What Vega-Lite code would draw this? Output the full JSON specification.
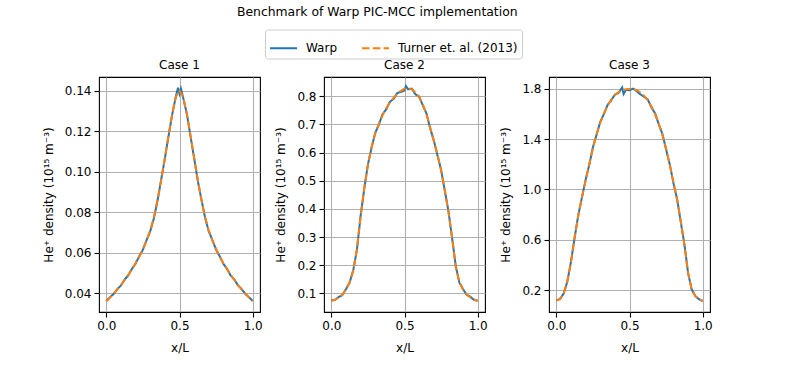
{
  "$schema": "https://vega.github.io/schema/vega-lite/v6.json",
  "padding": {"left": 41, "top": 5, "right": 5, "bottom": 5},
  "title": {"text": "Benchmark of Warp PIC-MCC implementation", "anchor": "middle", "fontSize": 12.4, "font": "DejaVu Sans", "fontWeight": "normal", "color": "black", "offset": 11},
  "data": {"values": [
    {"c":1,"s":"Warp","x":0,"y":0.0362},{"c":1,"s":"Warp","x":0.025,"y":0.0380},{"c":1,"s":"Warp","x":0.05,"y":0.0396},{"c":1,"s":"Warp","x":0.075,"y":0.0420},{"c":1,"s":"Warp","x":0.1,"y":0.0438},{"c":1,"s":"Warp","x":0.125,"y":0.0467},{"c":1,"s":"Warp","x":0.15,"y":0.0488},{"c":1,"s":"Warp","x":0.175,"y":0.0520},{"c":1,"s":"Warp","x":0.2,"y":0.0546},{"c":1,"s":"Warp","x":0.225,"y":0.0583},{"c":1,"s":"Warp","x":0.25,"y":0.0615},{"c":1,"s":"Warp","x":0.275,"y":0.0662},{"c":1,"s":"Warp","x":0.3,"y":0.0706},{"c":1,"s":"Warp","x":0.325,"y":0.0770},{"c":1,"s":"Warp","x":0.35,"y":0.0858},{"c":1,"s":"Warp","x":0.375,"y":0.0962},{"c":1,"s":"Warp","x":0.4,"y":0.1065},{"c":1,"s":"Warp","x":0.425,"y":0.1176},{"c":1,"s":"Warp","x":0.45,"y":0.1282},{"c":1,"s":"Warp","x":0.475,"y":0.1372},{"c":1,"s":"Warp","x":0.49,"y":0.1415},{"c":1,"s":"Warp","x":0.5,"y":0.1385},{"c":1,"s":"Warp","x":0.51,"y":0.1410},{"c":1,"s":"Warp","x":0.525,"y":0.1365},{"c":1,"s":"Warp","x":0.55,"y":0.1288},{"c":1,"s":"Warp","x":0.575,"y":0.1176},{"c":1,"s":"Warp","x":0.6,"y":0.1068},{"c":1,"s":"Warp","x":0.625,"y":0.0955},{"c":1,"s":"Warp","x":0.65,"y":0.0862},{"c":1,"s":"Warp","x":0.675,"y":0.0772},{"c":1,"s":"Warp","x":0.7,"y":0.0705},{"c":1,"s":"Warp","x":0.725,"y":0.0662},{"c":1,"s":"Warp","x":0.75,"y":0.0615},{"c":1,"s":"Warp","x":0.775,"y":0.0582},{"c":1,"s":"Warp","x":0.8,"y":0.0545},{"c":1,"s":"Warp","x":0.825,"y":0.0520},{"c":1,"s":"Warp","x":0.85,"y":0.0487},{"c":1,"s":"Warp","x":0.875,"y":0.0467},{"c":1,"s":"Warp","x":0.9,"y":0.0438},{"c":1,"s":"Warp","x":0.925,"y":0.0420},{"c":1,"s":"Warp","x":0.95,"y":0.0396},{"c":1,"s":"Warp","x":0.975,"y":0.0380},{"c":1,"s":"Warp","x":1,"y":0.0362},
    {"c":1,"s":"Turner et. al. (2013)","x":0,"y":0.0360},{"c":1,"s":"Turner et. al. (2013)","x":0.025,"y":0.0378},{"c":1,"s":"Turner et. al. (2013)","x":0.05,"y":0.0398},{"c":1,"s":"Turner et. al. (2013)","x":0.075,"y":0.0418},{"c":1,"s":"Turner et. al. (2013)","x":0.1,"y":0.0440},{"c":1,"s":"Turner et. al. (2013)","x":0.125,"y":0.0465},{"c":1,"s":"Turner et. al. (2013)","x":0.15,"y":0.0490},{"c":1,"s":"Turner et. al. (2013)","x":0.175,"y":0.0518},{"c":1,"s":"Turner et. al. (2013)","x":0.2,"y":0.0548},{"c":1,"s":"Turner et. al. (2013)","x":0.225,"y":0.0580},{"c":1,"s":"Turner et. al. (2013)","x":0.25,"y":0.0618},{"c":1,"s":"Turner et. al. (2013)","x":0.275,"y":0.0660},{"c":1,"s":"Turner et. al. (2013)","x":0.3,"y":0.0710},{"c":1,"s":"Turner et. al. (2013)","x":0.325,"y":0.0775},{"c":1,"s":"Turner et. al. (2013)","x":0.35,"y":0.0860},{"c":1,"s":"Turner et. al. (2013)","x":0.375,"y":0.0960},{"c":1,"s":"Turner et. al. (2013)","x":0.4,"y":0.1070},{"c":1,"s":"Turner et. al. (2013)","x":0.425,"y":0.1180},{"c":1,"s":"Turner et. al. (2013)","x":0.45,"y":0.1285},{"c":1,"s":"Turner et. al. (2013)","x":0.475,"y":0.1370},{"c":1,"s":"Turner et. al. (2013)","x":0.5,"y":0.1400},{"c":1,"s":"Turner et. al. (2013)","x":0.525,"y":0.1370},{"c":1,"s":"Turner et. al. (2013)","x":0.55,"y":0.1285},{"c":1,"s":"Turner et. al. (2013)","x":0.575,"y":0.1180},{"c":1,"s":"Turner et. al. (2013)","x":0.6,"y":0.1070},{"c":1,"s":"Turner et. al. (2013)","x":0.625,"y":0.0960},{"c":1,"s":"Turner et. al. (2013)","x":0.65,"y":0.0860},{"c":1,"s":"Turner et. al. (2013)","x":0.675,"y":0.0775},{"c":1,"s":"Turner et. al. (2013)","x":0.7,"y":0.0710},{"c":1,"s":"Turner et. al. (2013)","x":0.725,"y":0.0660},{"c":1,"s":"Turner et. al. (2013)","x":0.75,"y":0.0618},{"c":1,"s":"Turner et. al. (2013)","x":0.775,"y":0.0580},{"c":1,"s":"Turner et. al. (2013)","x":0.8,"y":0.0548},{"c":1,"s":"Turner et. al. (2013)","x":0.825,"y":0.0518},{"c":1,"s":"Turner et. al. (2013)","x":0.85,"y":0.0490},{"c":1,"s":"Turner et. al. (2013)","x":0.875,"y":0.0465},{"c":1,"s":"Turner et. al. (2013)","x":0.9,"y":0.0440},{"c":1,"s":"Turner et. al. (2013)","x":0.925,"y":0.0418},{"c":1,"s":"Turner et. al. (2013)","x":0.95,"y":0.0398},{"c":1,"s":"Turner et. al. (2013)","x":0.975,"y":0.0378},{"c":1,"s":"Turner et. al. (2013)","x":1,"y":0.0360},
    {"c":2,"s":"Warp","x":0,"y":0.075},{"c":2,"s":"Warp","x":0.025,"y":0.077},{"c":2,"s":"Warp","x":0.05,"y":0.087},{"c":2,"s":"Warp","x":0.075,"y":0.094},{"c":2,"s":"Warp","x":0.1,"y":0.115},{"c":2,"s":"Warp","x":0.125,"y":0.138},{"c":2,"s":"Warp","x":0.15,"y":0.183},{"c":2,"s":"Warp","x":0.175,"y":0.255},{"c":2,"s":"Warp","x":0.2,"y":0.375},{"c":2,"s":"Warp","x":0.225,"y":0.471},{"c":2,"s":"Warp","x":0.25,"y":0.558},{"c":2,"s":"Warp","x":0.275,"y":0.617},{"c":2,"s":"Warp","x":0.3,"y":0.670},{"c":2,"s":"Warp","x":0.325,"y":0.699},{"c":2,"s":"Warp","x":0.35,"y":0.736},{"c":2,"s":"Warp","x":0.375,"y":0.753},{"c":2,"s":"Warp","x":0.4,"y":0.780},{"c":2,"s":"Warp","x":0.425,"y":0.790},{"c":2,"s":"Warp","x":0.45,"y":0.811},{"c":2,"s":"Warp","x":0.475,"y":0.815},{"c":2,"s":"Warp","x":0.5,"y":0.820},{"c":2,"s":"Warp","x":0.51,"y":0.836},{"c":2,"s":"Warp","x":0.525,"y":0.824},{"c":2,"s":"Warp","x":0.55,"y":0.827},{"c":2,"s":"Warp","x":0.575,"y":0.806},{"c":2,"s":"Warp","x":0.6,"y":0.799},{"c":2,"s":"Warp","x":0.625,"y":0.767},{"c":2,"s":"Warp","x":0.65,"y":0.739},{"c":2,"s":"Warp","x":0.675,"y":0.686},{"c":2,"s":"Warp","x":0.7,"y":0.644},{"c":2,"s":"Warp","x":0.725,"y":0.590},{"c":2,"s":"Warp","x":0.75,"y":0.539},{"c":2,"s":"Warp","x":0.775,"y":0.465},{"c":2,"s":"Warp","x":0.8,"y":0.393},{"c":2,"s":"Warp","x":0.825,"y":0.297},{"c":2,"s":"Warp","x":0.85,"y":0.198},{"c":2,"s":"Warp","x":0.875,"y":0.138},{"c":2,"s":"Warp","x":0.9,"y":0.115},{"c":2,"s":"Warp","x":0.925,"y":0.095},{"c":2,"s":"Warp","x":0.95,"y":0.088},{"c":2,"s":"Warp","x":0.975,"y":0.077},{"c":2,"s":"Warp","x":1,"y":0.074},
    {"c":2,"s":"Turner et. al. (2013)","x":0,"y":0.074},{"c":2,"s":"Turner et. al. (2013)","x":0.025,"y":0.078},{"c":2,"s":"Turner et. al. (2013)","x":0.05,"y":0.085},{"c":2,"s":"Turner et. al. (2013)","x":0.075,"y":0.095},{"c":2,"s":"Turner et. al. (2013)","x":0.1,"y":0.113},{"c":2,"s":"Turner et. al. (2013)","x":0.125,"y":0.140},{"c":2,"s":"Turner et. al. (2013)","x":0.15,"y":0.180},{"c":2,"s":"Turner et. al. (2013)","x":0.175,"y":0.258},{"c":2,"s":"Turner et. al. (2013)","x":0.2,"y":0.372},{"c":2,"s":"Turner et. al. (2013)","x":0.225,"y":0.474},{"c":2,"s":"Turner et. al. (2013)","x":0.25,"y":0.555},{"c":2,"s":"Turner et. al. (2013)","x":0.275,"y":0.620},{"c":2,"s":"Turner et. al. (2013)","x":0.3,"y":0.667},{"c":2,"s":"Turner et. al. (2013)","x":0.325,"y":0.702},{"c":2,"s":"Turner et. al. (2013)","x":0.35,"y":0.732},{"c":2,"s":"Turner et. al. (2013)","x":0.375,"y":0.757},{"c":2,"s":"Turner et. al. (2013)","x":0.4,"y":0.777},{"c":2,"s":"Turner et. al. (2013)","x":0.425,"y":0.794},{"c":2,"s":"Turner et. al. (2013)","x":0.45,"y":0.808},{"c":2,"s":"Turner et. al. (2013)","x":0.475,"y":0.819},{"c":2,"s":"Turner et. al. (2013)","x":0.5,"y":0.826},{"c":2,"s":"Turner et. al. (2013)","x":0.525,"y":0.828},{"c":2,"s":"Turner et. al. (2013)","x":0.55,"y":0.824},{"c":2,"s":"Turner et. al. (2013)","x":0.575,"y":0.813},{"c":2,"s":"Turner et. al. (2013)","x":0.6,"y":0.796},{"c":2,"s":"Turner et. al. (2013)","x":0.625,"y":0.771},{"c":2,"s":"Turner et. al. (2013)","x":0.65,"y":0.736},{"c":2,"s":"Turner et. al. (2013)","x":0.675,"y":0.690},{"c":2,"s":"Turner et. al. (2013)","x":0.7,"y":0.641},{"c":2,"s":"Turner et. al. (2013)","x":0.725,"y":0.594},{"c":2,"s":"Turner et. al. (2013)","x":0.75,"y":0.536},{"c":2,"s":"Turner et. al. (2013)","x":0.775,"y":0.468},{"c":2,"s":"Turner et. al. (2013)","x":0.8,"y":0.390},{"c":2,"s":"Turner et. al. (2013)","x":0.825,"y":0.300},{"c":2,"s":"Turner et. al. (2013)","x":0.85,"y":0.195},{"c":2,"s":"Turner et. al. (2013)","x":0.875,"y":0.140},{"c":2,"s":"Turner et. al. (2013)","x":0.9,"y":0.113},{"c":2,"s":"Turner et. al. (2013)","x":0.925,"y":0.097},{"c":2,"s":"Turner et. al. (2013)","x":0.95,"y":0.086},{"c":2,"s":"Turner et. al. (2013)","x":0.975,"y":0.078},{"c":2,"s":"Turner et. al. (2013)","x":1,"y":0.073},
    {"c":3,"s":"Warp","x":0,"y":0.117},{"c":3,"s":"Warp","x":0.025,"y":0.128},{"c":3,"s":"Warp","x":0.05,"y":0.171},{"c":3,"s":"Warp","x":0.075,"y":0.265},{"c":3,"s":"Warp","x":0.1,"y":0.425},{"c":3,"s":"Warp","x":0.125,"y":0.615},{"c":3,"s":"Warp","x":0.15,"y":0.796},{"c":3,"s":"Warp","x":0.175,"y":0.935},{"c":3,"s":"Warp","x":0.2,"y":1.076},{"c":3,"s":"Warp","x":0.225,"y":1.195},{"c":3,"s":"Warp","x":0.25,"y":1.336},{"c":3,"s":"Warp","x":0.275,"y":1.435},{"c":3,"s":"Warp","x":0.3,"y":1.538},{"c":3,"s":"Warp","x":0.325,"y":1.600},{"c":3,"s":"Warp","x":0.35,"y":1.672},{"c":3,"s":"Warp","x":0.37,"y":1.700},{"c":3,"s":"Warp","x":0.4,"y":1.755},{"c":3,"s":"Warp","x":0.425,"y":1.768},{"c":3,"s":"Warp","x":0.45,"y":1.812},{"c":3,"s":"Warp","x":0.46,"y":1.760},{"c":3,"s":"Warp","x":0.475,"y":1.792},{"c":3,"s":"Warp","x":0.5,"y":1.790},{"c":3,"s":"Warp","x":0.525,"y":1.803},{"c":3,"s":"Warp","x":0.55,"y":1.782},{"c":3,"s":"Warp","x":0.57,"y":1.760},{"c":3,"s":"Warp","x":0.6,"y":1.738},{"c":3,"s":"Warp","x":0.625,"y":1.716},{"c":3,"s":"Warp","x":0.65,"y":1.652},{"c":3,"s":"Warp","x":0.675,"y":1.606},{"c":3,"s":"Warp","x":0.7,"y":1.518},{"c":3,"s":"Warp","x":0.725,"y":1.441},{"c":3,"s":"Warp","x":0.75,"y":1.318},{"c":3,"s":"Warp","x":0.775,"y":1.201},{"c":3,"s":"Warp","x":0.8,"y":1.052},{"c":3,"s":"Warp","x":0.825,"y":0.926},{"c":3,"s":"Warp","x":0.85,"y":0.743},{"c":3,"s":"Warp","x":0.875,"y":0.566},{"c":3,"s":"Warp","x":0.9,"y":0.336},{"c":3,"s":"Warp","x":0.925,"y":0.205},{"c":3,"s":"Warp","x":0.95,"y":0.152},{"c":3,"s":"Warp","x":0.975,"y":0.127},{"c":3,"s":"Warp","x":1,"y":0.112},
    {"c":3,"s":"Turner et. al. (2013)","x":0,"y":0.115},{"c":3,"s":"Turner et. al. (2013)","x":0.025,"y":0.130},{"c":3,"s":"Turner et. al. (2013)","x":0.05,"y":0.168},{"c":3,"s":"Turner et. al. (2013)","x":0.075,"y":0.270},{"c":3,"s":"Turner et. al. (2013)","x":0.1,"y":0.420},{"c":3,"s":"Turner et. al. (2013)","x":0.125,"y":0.620},{"c":3,"s":"Turner et. al. (2013)","x":0.15,"y":0.790},{"c":3,"s":"Turner et. al. (2013)","x":0.175,"y":0.940},{"c":3,"s":"Turner et. al. (2013)","x":0.2,"y":1.070},{"c":3,"s":"Turner et. al. (2013)","x":0.225,"y":1.200},{"c":3,"s":"Turner et. al. (2013)","x":0.25,"y":1.330},{"c":3,"s":"Turner et. al. (2013)","x":0.275,"y":1.440},{"c":3,"s":"Turner et. al. (2013)","x":0.3,"y":1.530},{"c":3,"s":"Turner et. al. (2013)","x":0.325,"y":1.605},{"c":3,"s":"Turner et. al. (2013)","x":0.35,"y":1.665},{"c":3,"s":"Turner et. al. (2013)","x":0.375,"y":1.715},{"c":3,"s":"Turner et. al. (2013)","x":0.4,"y":1.750},{"c":3,"s":"Turner et. al. (2013)","x":0.425,"y":1.775},{"c":3,"s":"Turner et. al. (2013)","x":0.45,"y":1.790},{"c":3,"s":"Turner et. al. (2013)","x":0.475,"y":1.798},{"c":3,"s":"Turner et. al. (2013)","x":0.5,"y":1.800},{"c":3,"s":"Turner et. al. (2013)","x":0.525,"y":1.798},{"c":3,"s":"Turner et. al. (2013)","x":0.55,"y":1.790},{"c":3,"s":"Turner et. al. (2013)","x":0.575,"y":1.772},{"c":3,"s":"Turner et. al. (2013)","x":0.6,"y":1.745},{"c":3,"s":"Turner et. al. (2013)","x":0.625,"y":1.710},{"c":3,"s":"Turner et. al. (2013)","x":0.65,"y":1.660},{"c":3,"s":"Turner et. al. (2013)","x":0.675,"y":1.600},{"c":3,"s":"Turner et. al. (2013)","x":0.7,"y":1.525},{"c":3,"s":"Turner et. al. (2013)","x":0.725,"y":1.435},{"c":3,"s":"Turner et. al. (2013)","x":0.75,"y":1.325},{"c":3,"s":"Turner et. al. (2013)","x":0.775,"y":1.195},{"c":3,"s":"Turner et. al. (2013)","x":0.8,"y":1.060},{"c":3,"s":"Turner et. al. (2013)","x":0.825,"y":0.920},{"c":3,"s":"Turner et. al. (2013)","x":0.85,"y":0.750},{"c":3,"s":"Turner et. al. (2013)","x":0.875,"y":0.560},{"c":3,"s":"Turner et. al. (2013)","x":0.9,"y":0.340},{"c":3,"s":"Turner et. al. (2013)","x":0.925,"y":0.200},{"c":3,"s":"Turner et. al. (2013)","x":0.95,"y":0.150},{"c":3,"s":"Turner et. al. (2013)","x":0.975,"y":0.125},{"c":3,"s":"Turner et. al. (2013)","x":1,"y":0.113}
  ]},
  "spacing": 64,
  "bounds": "flush",
  "hconcat": [
    {
      "title": "Case 1",
      "width": 161, "height": 235,
      "encoding": {
        "x": {"field": "x", "type": "quantitative", "scale": {"domain": [-0.05, 1.05], "nice": false, "zero": false}, "axis": {"values": [0, 0.5, 1], "format": ".1f", "title": "x/L"}},
        "y": {"field": "y", "type": "quantitative", "scale": {"domain": [0.0307, 0.1468], "nice": false, "zero": false}, "axis": {"values": [0.04, 0.06, 0.08, 0.1, 0.12, 0.14], "format": ".2f", "title": "He⁺ density (10¹⁵ m⁻³)"}},
        "color": {"field": "s", "type": "nominal", "scale": {"domain": ["Warp", "Turner et. al. (2013)"], "range": ["#1f77b4", "#ff7f0e"]}, "legend": {"title": null}},
        "strokeDash": {"field": "s", "type": "nominal", "scale": {"domain": ["Warp", "Turner et. al. (2013)"], "range": [[1, 0], [7.5, 3.3]]}, "legend": {"title": null}}
      },
      "layer": [
        {"transform": [{"filter": "datum.c == 1 && datum.s == 'Warp'"}], "mark": {"type": "line", "strokeWidth": 2}},
        {"transform": [{"filter": "datum.c == 1 && datum.s != 'Warp'"}], "mark": {"type": "line", "strokeWidth": 2}}
      ]
    },
    {
      "title": "Case 2",
      "width": 161, "height": 235,
      "encoding": {
        "x": {"field": "x", "type": "quantitative", "scale": {"domain": [-0.05, 1.05], "nice": false, "zero": false}, "axis": {"values": [0, 0.5, 1], "format": ".1f", "title": "x/L"}},
        "y": {"field": "y", "type": "quantitative", "scale": {"domain": [0.034, 0.868], "nice": false, "zero": false}, "axis": {"values": [0.1, 0.2, 0.3, 0.4, 0.5, 0.6, 0.7, 0.8], "format": ".1f", "title": "He⁺ density (10¹⁵ m⁻³)"}},
        "color": {"field": "s", "type": "nominal", "scale": {"domain": ["Warp", "Turner et. al. (2013)"], "range": ["#1f77b4", "#ff7f0e"]}, "legend": {"title": null}},
        "strokeDash": {"field": "s", "type": "nominal", "scale": {"domain": ["Warp", "Turner et. al. (2013)"], "range": [[1, 0], [7.5, 3.3]]}, "legend": {"title": null}}
      },
      "layer": [
        {"transform": [{"filter": "datum.c == 2 && datum.s == 'Warp'"}], "mark": {"type": "line", "strokeWidth": 2}},
        {"transform": [{"filter": "datum.c == 2 && datum.s != 'Warp'"}], "mark": {"type": "line", "strokeWidth": 2}}
      ]
    },
    {
      "title": "Case 3",
      "width": 161, "height": 235,
      "encoding": {
        "x": {"field": "x", "type": "quantitative", "scale": {"domain": [-0.05, 1.05], "nice": false, "zero": false}, "axis": {"values": [0, 0.5, 1], "format": ".1f", "title": "x/L"}},
        "y": {"field": "y", "type": "quantitative", "scale": {"domain": [0.025, 1.895], "nice": false, "zero": false}, "axis": {"values": [0.2, 0.6, 1.0, 1.4, 1.8], "format": ".1f", "title": "He⁺ density (10¹⁵ m⁻³)"}},
        "color": {"field": "s", "type": "nominal", "scale": {"domain": ["Warp", "Turner et. al. (2013)"], "range": ["#1f77b4", "#ff7f0e"]}, "legend": {"title": null}},
        "strokeDash": {"field": "s", "type": "nominal", "scale": {"domain": ["Warp", "Turner et. al. (2013)"], "range": [[1, 0], [7.5, 3.3]]}, "legend": {"title": null}}
      },
      "layer": [
        {"transform": [{"filter": "datum.c == 3 && datum.s == 'Warp'"}], "mark": {"type": "line", "strokeWidth": 2}},
        {"transform": [{"filter": "datum.c == 3 && datum.s != 'Warp'"}], "mark": {"type": "line", "strokeWidth": 2}}
      ]
    }
  ],
  "resolve": {"scale": {"color": "shared", "strokeDash": "shared", "y": "independent"}},
  "config": {
    "font": "DejaVu Sans",
    "view": {"stroke": "black", "strokeWidth": 1.1},
    "title": {"fontSize": 12, "font": "DejaVu Sans", "fontWeight": "normal", "color": "black", "offset": 5.5},
    "axis": {
      "domain": false,
      "grid": true, "gridColor": "#b0b0b0", "gridWidth": 1.1, "gridOpacity": 1,
      "ticks": true, "tickColor": "black", "tickSize": 5, "tickWidth": 1.1,
      "labelFont": "DejaVu Sans", "labelFontSize": 12, "labelColor": "black", "labelPadding": 3,
      "titleFont": "DejaVu Sans", "titleFontSize": 12, "titleFontWeight": "normal", "titleColor": "black"
    },
    "axisY": {"labelFlush": false, "titlePadding": 9},
    "axisX": {"labelFlush": false, "titlePadding": 11},
    "legend": {
      "orient": "none", "legendX": 166, "legendY": -47.5, "direction": "horizontal",
      "symbolType": "stroke", "symbolSize": 729, "symbolStrokeWidth": 2,
      "labelFont": "DejaVu Sans", "labelFontSize": 12, "labelColor": "black", "labelOffset": 8,
      "columnPadding": 20, "padding": 4, "strokeColor": "#cccccc", "fillColor": "white", "cornerRadius": 3
    }
  }
}
